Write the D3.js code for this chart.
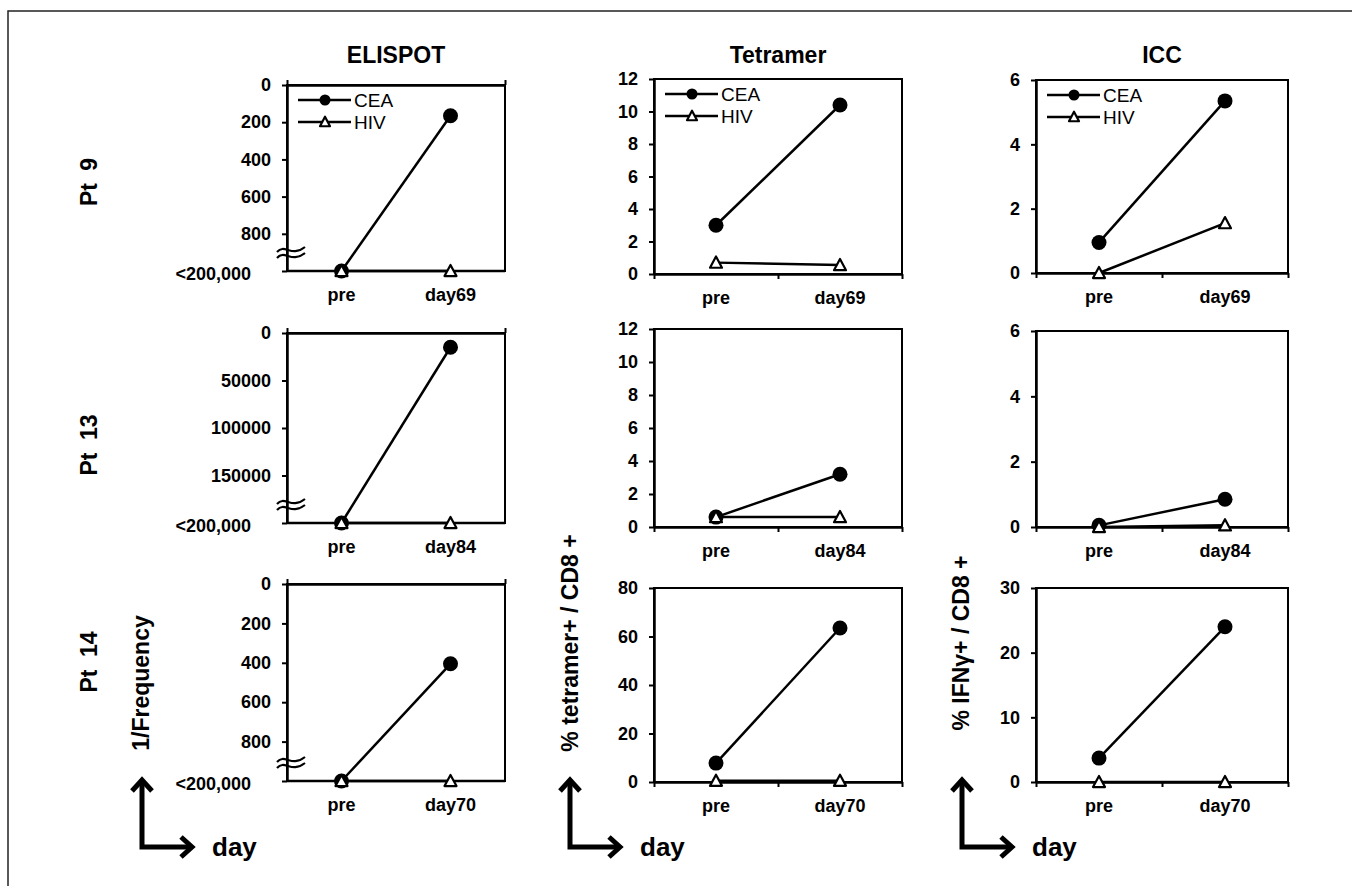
<!DOCTYPE html>
<html>
<head>
<meta charset="utf-8">
<style>
    body { margin: 0; background: #fff; overflow: hidden; }
    svg { display: block; font-family: "Liberation Sans", Arial, sans-serif; }
    .tick text { font-family: "Liberation Sans", Arial, sans-serif; font-size: 18px; font-weight: bold; fill: #000; }
    .tick line { stroke: #000; stroke-width: 2; }
    .domain { stroke: #000; stroke-width: 2.5; }
    .title { font-size: 23px; font-weight: bold; }
    .rowlab { font-size: 23px; font-weight: bold; word-spacing: 6px; }
    .ylab { font-size: 23px; font-weight: bold; }
    .day { font-size: 26px; font-weight: bold; }
    .legend { font-size: 19px; }
</style>
</head>
<body>
<svg width="1352" height="886"></svg>
<script src="https://d3js.org/d3.v7.min.js"></script>
<script>
// ---- data ----
const columns = ["ELISPOT", "Tetramer", "ICC"];
const patients = ["Pt 9", "Pt 13", "Pt 14"];
const days = [["pre", "day69"], ["pre", "day84"], ["pre", "day70"]];
const seriesNames = ["CEA", "HIV"];

// ELISPOT: 1/frequency, null = below detection (<200,000), drawn at axis bottom
const elispotCEA = [[null, 165], [null, 15000], [null, 405]];
const elispotHIV = [[null, null], [null, null], [null, null]];
const elispotTicks = [
    [0, 200, 400, 600, 800, 1000],
    [0, 50000, 100000, 150000, 200000],
    [0, 200, 400, 600, 800, 1000]];

// Tetramer: % tetramer+ / CD8+
const tetramerCEA = [[3.0, 10.4], [0.6, 3.2], [7.8, 63.5]];
const tetramerHIV = [[0.7, 0.55], [0.6, 0.6], [0.5, 0.5]];
const tetramerTicks = [
    [0, 2, 4, 6, 8, 10, 12],
    [0, 2, 4, 6, 8, 10, 12],
    [0, 20, 40, 60, 80]];

// ICC: % IFNg+ / CD8+
const iccCEA = [[0.95, 5.35], [0.05, 0.85], [3.7, 24.0]];
const iccHIV = [[0, 1.55], [0, 0.05], [0, 0]];
const iccTicks = [
    [0, 2, 4, 6],
    [0, 2, 4, 6],
    [0, 10, 20, 30]];

const belowLabel = "<200,000";
const yTitles = ["1/Frequency", "% tetramer+ / CD8 +", "% IFN\u03b3+ / CD8 +"];

// ---- layout ----
let svg = d3.select("svg");

// plot boxes per column: [left, right], per row [top, bottom]
let colX = [[287, 505], [654, 902], [1036, 1288]];
let rowY = [
    [[85, 271], [333, 523], [584, 781]],
    [[79, 274], [329, 527], [588, 782]],
    [[80, 273], [331, 527], [588, 782]]];

// outer frame (runs off the right / bottom edge)
svg.append("path")
    .attr("d", "M1360,11 H8 V900")
    .attr("fill", "none")
    .attr("stroke", "#222")
    .attr("stroke-width", 1.5);

let colData = [
    { cea: elispotCEA, hiv: elispotHIV, ticks: elispotTicks, reversed: true },
    { cea: tetramerCEA, hiv: tetramerHIV, ticks: tetramerTicks, reversed: false },
    { cea: iccCEA, hiv: iccHIV, ticks: iccTicks, reversed: false }];

function triangle(g, cx, cy, s) {
    let h = s * 0.85;
    g.append("path")
        .attr("d", `M${cx},${cy - h / 2 - 1} L${cx + s / 2},${cy + h / 2} L${cx - s / 2},${cy + h / 2} Z`)
        .attr("fill", "#fff")
        .attr("stroke", "#000")
        .attr("stroke-width", 2.2)
        .attr("stroke-linejoin", "round");
}

colData.forEach((cd, c) => {
    let [x0, x1] = colX[c];

    svg.append("text")
        .attr("class", "title")
        .attr("x", (x0 + x1) / 2)
        .attr("y", 63)
        .attr("text-anchor", "middle")
        .text(columns[c]);

    patients.forEach((p, r) => {
        let [top, bottom] = rowY[c][r];
        let ticks = cd.ticks[r];
        let maxV = d3.max(ticks);

        let x = d3.scaleBand().domain(days[r]).range([x0, x1]);
        let xEdge = d3.scaleLinear().domain([0, 2]).range([x0, x1]);
        let y = d3.scaleLinear().domain([0, maxV])
            .range(cd.reversed ? [top, bottom] : [bottom, top]);

        let g = svg.append("g");

        // plot frame
        g.append("rect")
            .attr("x", x0).attr("y", top)
            .attr("width", x1 - x0).attr("height", bottom - top)
            .attr("fill", "none")
            .attr("stroke", "#000")
            .attr("stroke-width", 2);

        // value axis
        let yAxis = g.append("g")
            .attr("transform", `translate(${x0},0)`)
            .call(d3.axisLeft(y)
                .tickValues(ticks)
                .tickSize(5)
                .tickSizeOuter(0)
                .tickPadding(11)
                .tickFormat(v => (cd.reversed && v === maxV) ? belowLabel : String(v)));
        if (cd.reversed) {
            yAxis.selectAll(".tick text")
                .filter(v => v === maxV)
                .attr("dx", -20)
                .attr("dy", "0.45em");
        }

        // category axis line + ticks
        if (cd.reversed) {
            g.append("g")
                .attr("transform", `translate(0,${top})`)
                .call(d3.axisTop(xEdge).tickValues([0, 2]).tickSize(5).tickSizeOuter(0).tickFormat(""));
            g.append("line")
                .attr("x1", x0).attr("x2", x1).attr("y1", bottom).attr("y2", bottom)
                .attr("stroke", "#000").attr("stroke-width", 2.5);
            // axis break
            [-3, 3].forEach(dy => {
                let yb = bottom - 18 + dy;
                g.append("path")
                    .attr("d", `M${x0 - 10},${yb + 2} C${x0 - 2},${yb - 7} ${x0 + 4},${yb + 8} ${x0 + 18},${yb - 3}`)
                    .attr("fill", "none")
                    .attr("stroke", "#000")
                    .attr("stroke-width", 2.2);
            });
        } else {
            g.append("g")
                .attr("transform", `translate(0,${bottom})`)
                .call(d3.axisBottom(xEdge).tickValues([0, 1, 2]).tickSize(5).tickSizeOuter(0).tickFormat(""));
        }

        // category labels
        g.append("g")
            .attr("transform", `translate(0,${bottom})`)
            .call(d3.axisBottom(x).tickSize(0).tickPadding(17))
            .call(a => a.select(".domain").remove());

        // series
        let below = v => v === null ? maxV : v;
        let line = d3.line()
            .x((d, i) => x(days[r][i]) + x.bandwidth() / 2)
            .y(d => y(below(d)));

        g.append("path")
            .datum(cd.cea[r])
            .attr("d", line)
            .attr("fill", "none").attr("stroke", "#000").attr("stroke-width", 2.5);
        g.append("path")
            .datum(cd.hiv[r])
            .attr("d", line)
            .attr("fill", "none").attr("stroke", "#000").attr("stroke-width", 2.5);

        cd.cea[r].forEach((v, i) => {
            g.append("circle")
                .attr("cx", x(days[r][i]) + x.bandwidth() / 2)
                .attr("cy", y(below(v)))
                .attr("r", 7.5)
                .attr("fill", "#000");
        });
        cd.hiv[r].forEach((v, i) => {
            triangle(g, x(days[r][i]) + x.bandwidth() / 2, y(below(v)), 12);
        });

        // legend in first row
        if (r === 0) {
            seriesNames.forEach((s, k) => {
                let ly = top + 15 + k * 22;
                g.append("line")
                    .attr("x1", x0 + 11).attr("x2", x0 + 64)
                    .attr("y1", ly).attr("y2", ly)
                    .attr("stroke", "#000").attr("stroke-width", 2.5);
                if (k === 0) {
                    g.append("circle").attr("cx", x0 + 38).attr("cy", ly).attr("r", 5.5).attr("fill", "#000");
                } else {
                    triangle(g, x0 + 38, ly, 10);
                }
                g.append("text")
                    .attr("class", "legend")
                    .attr("x", x0 + 67)
                    .attr("y", ly + 7)
                    .text(s);
            });
        }
    });
});

// patient row labels
let rowLabY = [182, 445, 662];
patients.forEach((p, r) => {
    svg.append("text")
        .attr("class", "rowlab")
        .attr("transform", `translate(97,${rowLabY[r]}) rotate(-90)`)
        .attr("text-anchor", "middle")
        .text(p);
});

// y titles + day arrows in the bottom row
let yTitleX = [149, 578, 969];
let yTitleY = [683, 643, 643];
let arrowX = [142, 570, 962];
yTitles.forEach((t, c) => {
    svg.append("text")
        .attr("class", "ylab")
        .attr("transform", `translate(${yTitleX[c]},${yTitleY[c]}) rotate(-90)`)
        .attr("text-anchor", "middle")
        .text(t);

    let ax = arrowX[c];
    svg.append("path")
        .attr("d", `M${ax},781 V847 H${ax + 49}`)
        .attr("fill", "none").attr("stroke", "#000").attr("stroke-width", 5);
    svg.append("path")
        .attr("d", `M${ax - 10},791 L${ax},780 L${ax + 10},791`)
        .attr("fill", "none").attr("stroke", "#000").attr("stroke-width", 5);
    svg.append("path")
        .attr("d", `M${ax + 39},837 L${ax + 50},847 L${ax + 39},857`)
        .attr("fill", "none").attr("stroke", "#000").attr("stroke-width", 5);
    svg.append("text")
        .attr("class", "day")
        .attr("x", ax + 70)
        .attr("y", 856)
        .text("day");
});
</script>
</body>
</html>
